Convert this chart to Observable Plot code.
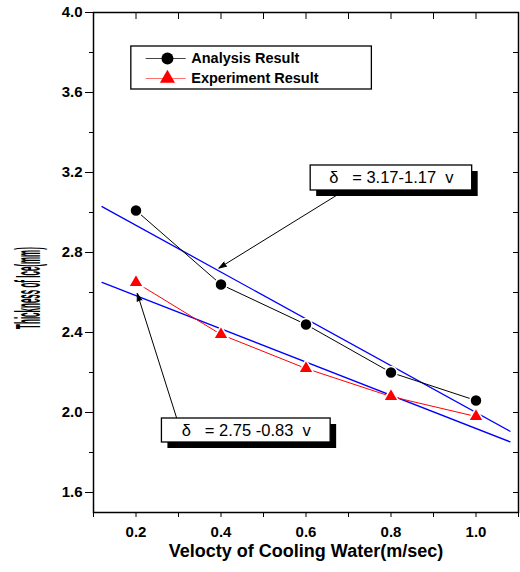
<!DOCTYPE html>
<html><head><meta charset="utf-8">
<script src="https://cdn.jsdelivr.net/npm/d3@7"></script>
<script src="https://cdn.jsdelivr.net/npm/@observablehq/plot@0.6"></script>
<style>
body{margin:0;background:#fff}
svg{font-family:Arial,"Liberation Sans",sans-serif}
</style>
</head><body><div id="chart"></div>
<script>
// ---- data ----
const velocity = [0.2, 0.4, 0.6, 0.8, 1.0];
const analysis = [3.01, 2.64, 2.44, 2.20, 2.06];
const experiment = [2.65, 2.39, 2.22, 2.08, 1.98];
const fitIntercepts = [3.17, 2.75];
const fitSlopes = [1.17, 0.83];
const fitRange = [0.12, 1.08];
const fitLabels = ["δ\u00a0\u00a0\u00a0= 3.17-1.17\u00a0\u00a0v", "δ\u00a0\u00a0\u00a0= 2.75 -0.83\u00a0\u00a0v"];
const seriesNames = ["Analysis Result", "Experiment Result"];
const xMajorTicks = [0.2, 0.4, 0.6, 0.8, 1.0];
const xMinorTicks = [0.1, 0.3, 0.5, 0.7, 0.9, 1.1];
const yMajorTicks = [1.6, 2.0, 2.4, 2.8, 3.2, 3.6, 4.0];
const yMinorTicks = [1.8, 2.2, 2.6, 3.0, 3.4, 3.8];
const xLabel = "Velocty of Cooling Water(m/sec)";
const yLabel = "Thickness of Ice(mm)";

// ---- annotation layout (data coordinates) ----
const boxes = [
  {x1: 0.611, x2: 0.991, y1: 3.11, y2: 3.235},
  {x1: 0.261, x2: 0.658, y1: 1.85, y2: 1.97}
];
const arrows = [
  {x1: 0.679, y1: 3.095, x2: 0.395, y2: 2.722},
  {x1: 0.296, y1: 1.97, x2: 0.203, y2: 2.595}
];
const legendBox = {x1: 0.189, x2: 0.755, y1: 3.615, y2: 3.83};
const legendRows = [3.77, 3.67];
const legendLine = [0.224, 0.318];
const legendMarkerX = 0.274;
const legendTextX = 0.33;

const analysisData = velocity.map((v, i) => ({v, d: analysis[i]}));
const experimentData = velocity.map((v, i) => ({v, d: experiment[i]}));
const fitData = fitIntercepts.map((a, k) => fitRange.map(v => ({v, d: a - fitSlopes[k] * v, k})));
const boxData = boxes.map((b, i) => ({...b, label: fitLabels[i]}));
const legendData = seriesNames.map((name, i) => ({name, y: legendRows[i], i}));
const allY = [...yMajorTicks, ...yMinorTicks];
const allX = [...xMajorTicks, ...xMinorTicks];
const blank = () => "";

const chart = Plot.plot({
  width: 520, height: 572,
  marginLeft: 93, marginRight: 2, marginTop: 12, marginBottom: 60,
  style: {fontFamily: "Arial, 'Liberation Sans', sans-serif", background: "white", overflow: "visible"},
  x: {domain: [0.1, 1.1]},
  y: {domain: [1.5, 4.0]},
  marks: [
    Plot.axisY(yMajorTicks, {anchor: "left", tickSize: 8, tickPadding: 3, tickFormat: d => d.toFixed(1), fontSize: 15, fontWeight: "bold", fill: "black", label: null}),
    Plot.axisY(yMinorTicks, {anchor: "left", tickSize: 4, tickFormat: blank, label: null}),
    Plot.axisY(allY, {anchor: "right", tickSize: -6, tickFormat: blank, label: null}),
    Plot.axisX(xMajorTicks, {anchor: "bottom", tickSize: 5, tickPadding: 9, tickFormat: d => d.toFixed(1), fontSize: 15, fontWeight: "bold", fill: "black", label: null}),
    Plot.axisX(xMinorTicks, {anchor: "bottom", tickSize: 5, tickFormat: blank, label: null}),
    Plot.axisX(allX, {anchor: "top", tickSize: -6, tickFormat: blank, label: null}),
    Plot.text([xLabel], {frameAnchor: "bottom", dy: 44, fontSize: 18, fontWeight: "bold", fill: "black"}),
    // fitted lines
    ...fitData.map(f => Plot.line(f, {x: "v", y: "d", stroke: "#0000ff", strokeWidth: 1.3})),
    // series lines
    Plot.line(analysisData, {x: "v", y: "d", stroke: "black", strokeWidth: 1}),
    Plot.line(experimentData, {x: "v", y: "d", stroke: "#ff0000", strokeWidth: 1}),
    Plot.dot(analysisData, {x: "v", y: "d", r: 6, fill: "black", stroke: "white", strokeWidth: 1.5}),
    Plot.dot(experimentData, {x: "v", y: "d", r: 5.6, symbol: "triangle", fill: "#ff0000", stroke: "white", strokeWidth: 1.5}),
    // annotation arrows (filled heads)
    Plot.arrow(arrows, {x1: "x1", y1: "y1", x2: "x2", y2: "y2", stroke: "black", fill: "black", strokeWidth: 1, headLength: 12, headAngle: 36}),
    // equation boxes with shadow
    Plot.rect(boxData, {x1: "x1", x2: "x2", y1: "y1", y2: "y2", fill: "black", dx: 6, dy: 6}),
    Plot.rect(boxData, {x1: "x1", x2: "x2", y1: "y1", y2: "y2", fill: "white", stroke: "black", strokeWidth: 1.3}),
    Plot.text(boxData, {x: d => (d.x1 + d.x2) / 2, y: d => (d.y1 + d.y2) / 2, text: "label", fontSize: 16.5, fill: "black"}),
    // legend
    Plot.rect([legendBox], {x1: "x1", x2: "x2", y1: "y1", y2: "y2", fill: "white", stroke: "black", strokeWidth: 1.3}),
    Plot.ruleY([legendData[0]], {y: "y", x1: legendLine[0], x2: legendLine[1], stroke: "#444", strokeWidth: 1}),
    Plot.ruleY([legendData[1]], {y: "y", x1: legendLine[0], x2: legendLine[1], stroke: "#ff7070", strokeWidth: 1}),
    Plot.dot([legendData[0]], {x: () => legendMarkerX, y: "y", r: 6, fill: "black"}),
    Plot.dot([legendData[1]], {x: () => legendMarkerX, y: "y", r: 5.6, symbol: "triangle", fill: "#ff0000"}),
    Plot.text(legendData, {x: () => legendTextX, y: "y", text: "name", textAnchor: "start", fontSize: 14.5, fontWeight: "bold", fill: "black"}),
    Plot.frame({stroke: "black", strokeWidth: 1.5})
  ]
});

// y-axis label (squeezed vertical text as in original)
d3.select(chart).append("text")
  .attr("transform", "translate(31,288) scale(4.4,1) rotate(-90)")
  .attr("text-anchor", "middle")
  .attr("dominant-baseline", "middle")
  .attr("font-size", 8)
  .attr("font-weight", "bold")
  .attr("fill", "black")
  .text(yLabel);

document.getElementById("chart").appendChild(chart);
</script>
</body></html>
